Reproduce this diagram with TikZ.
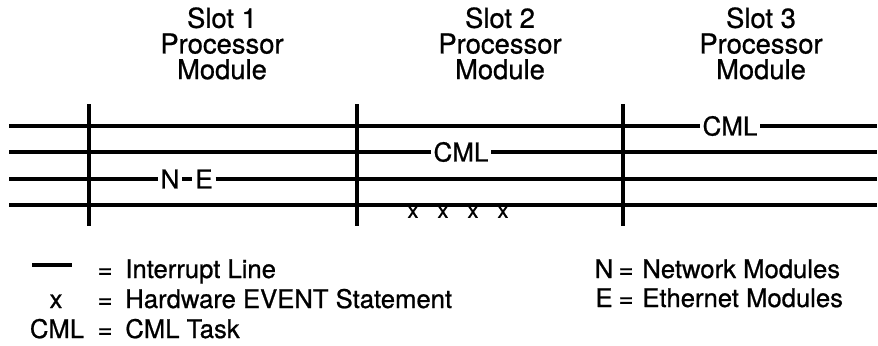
\documentclass[tikz,border=0pt]{standalone}
\usepackage{fontspec}
\setmainfont{TeX Gyre Heros}[FakeBold=0.8]

\begin{document}
\begin{tikzpicture}[x=0.02cm,y=-0.02cm,
    bus/.style={line width=1.8pt},
    slotline/.style={line width=1.8pt},
    slottitle/.style={align=center,anchor=north,inner sep=0pt,font=\fontsize{15.6}{14.6}\selectfont},
    task/.style={inner xsep=1.5pt,inner ysep=1pt,font=\fontsize{14.8}{16}\selectfont},
    evt/.style={anchor=north,inner sep=0pt,font=\fontsize{12.5}{13}\selectfont},
    key/.style={anchor=base,inner sep=0pt,font=\fontsize{14.6}{16}\selectfont},
    desc/.style={anchor=base west,inner sep=0pt,font=\fontsize{14.6}{16}\selectfont}]
    \useasboundingbox (0,0) rectangle (878,345);

    % Titles
    \node[slottitle] (t1) at (222,7) {Slot 1\\Processor\\Module};
    \node[slottitle] (t2) at (500,7) {Slot 2\\Processor\\Module};
    \node[slottitle] (t3) at (761,7) {Slot 3\\Processor\\Module};

    % Line ends
    \coordinate (L1w) at (9,126);  \coordinate (L1e) at (877,126);
    \coordinate (L2w) at (9,152);  \coordinate (L2e) at (877,152);
    \coordinate (L3w) at (9,179);  \coordinate (L3e) at (877,179);
    \coordinate (L4w) at (9,205);  \coordinate (L4e) at (877,205);
    \coordinate (S1t) at (89,104);  \coordinate (S1b) at (89,226);
    \coordinate (S2t) at (357,104); \coordinate (S2b) at (357,226);
    \coordinate (S3t) at (623,104); \coordinate (S3b) at (623,226);

    % Tasks on the lines
    \node[task] (cml3) at (730,126) {CML};
    \node[task] (cml2) at (461,152) {CML};
    \node[task] (net) at (170,179) {N};
    \node[task] (eth) at (204,179) {E};
    \foreach \x [count=\i] in {413,443,473,503}
        \node[evt] (evt\i) at (\x,206) {x};

    % Lines
    \draw[bus] (L1w) -- (cml3) -- (L1e);
    \draw[bus] (L2w) -- (cml2) -- (L2e);
    \draw[bus] (L3w) -- (net) -- (eth) -- (L3e);
    \draw[bus] (L4w) -- (L4e);
    \draw[slotline] (S1t) -- (S1b);
    \draw[slotline] (S2t) -- (S2b);
    \draw[slotline] (S3t) -- (S3b);

    % Legend
    \coordinate (dashw) at (32,265); \coordinate (dashe) at (72,265);
    \draw[bus] (dashw) -- (dashe);
    \node[key] (kx) at (56,308) {x};
    \node[key] (kcml) at (57,338) {CML};
    \node[key] (eq1) at (105,278) {=};
    \node[key] (eq2) at (105,308) {=};
    \node[key] (eq3) at (105,338) {=};
    \node[desc] (d1) at (125,278) {Interrupt Line};
    \node[desc] (d2) at (125,308) {Hardware EVENT Statement};
    \node[desc] (d3) at (125,338) {CML Task};
    \node[key] (kn) at (604,278) {N};
    \node[key] (ke) at (604,307) {E};
    \node[key] (eq4) at (626,278) {=};
    \node[key] (eq5) at (626,307) {=};
    \node[desc] (d4) at (642,278) {Network Modules};
    \node[desc] (d5) at (642,307) {Ethernet Modules};
\end{tikzpicture}
\end{document}
